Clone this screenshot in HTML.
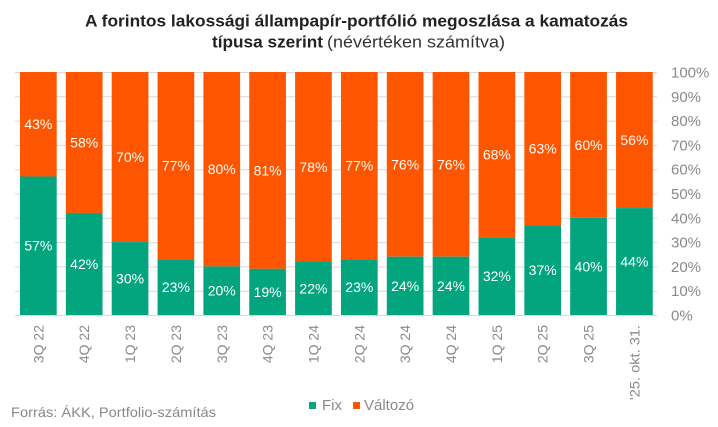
<!DOCTYPE html>
<html>
<head>
<meta charset="utf-8">
<style>
  html, body { margin: 0; padding: 0; background: #ffffff; }
  svg { display: block; }
  text { font-family: "Liberation Sans", Arial, sans-serif; }
</style>
</head>
<body>
<svg width="718" height="427" viewBox="0 0 718 427" xmlns="http://www.w3.org/2000/svg">
  <rect x="0" y="0" width="718" height="427" fill="#ffffff"/>

  <!-- Title -->
  <text x="85" y="26.7" font-size="17" font-weight="bold" fill="#222" textLength="543" lengthAdjust="spacingAndGlyphs">A forintos lakossági állampapír-portfólió megoszlása a kamatozás</text>
  <text x="212" y="47.5" font-size="17" font-weight="bold" fill="#222" textLength="111" lengthAdjust="spacingAndGlyphs">típusa szerint</text>
  <text x="327" y="47.5" font-size="17" fill="#333" textLength="178" lengthAdjust="spacingAndGlyphs">(névértéken számítva)</text>

  <!-- Gridlines -->
  <g stroke="#d9d9d9" stroke-width="1">
    <line x1="15" x2="657" y1="72.5" y2="72.5"/>
    <line x1="15" x2="657" y1="96.8" y2="96.8"/>
    <line x1="15" x2="657" y1="121.1" y2="121.1"/>
    <line x1="15" x2="657" y1="145.4" y2="145.4"/>
    <line x1="15" x2="657" y1="169.7" y2="169.7"/>
    <line x1="15" x2="657" y1="194" y2="194"/>
    <line x1="15" x2="657" y1="218.3" y2="218.3"/>
    <line x1="15" x2="657" y1="242.6" y2="242.6"/>
    <line x1="15" x2="657" y1="266.9" y2="266.9"/>
    <line x1="15" x2="657" y1="291.2" y2="291.2"/>
    <line x1="15" x2="657" y1="315.5" y2="315.5"/>
  </g>

  <!-- Y axis labels -->
  <g font-size="15" fill="#8a8a8a">
    <text x="671" y="77.5">100%</text>
    <text x="671" y="101.8">90%</text>
    <text x="671" y="126.1">80%</text>
    <text x="671" y="150.4">70%</text>
    <text x="671" y="174.7">60%</text>
    <text x="671" y="199">50%</text>
    <text x="671" y="223.3">40%</text>
    <text x="671" y="247.6">30%</text>
    <text x="671" y="271.9">20%</text>
    <text x="671" y="296.2">10%</text>
    <text x="671" y="320.5">0%</text>
  </g>

  <!-- Bars: orange (Változó) -->
  <g fill="#FE5500">
    <rect x="20" y="72" width="36.7" height="104.49"/>
    <rect x="65.85" y="72" width="36.7" height="140.94"/>
    <rect x="111.7" y="72" width="36.7" height="170.1"/>
    <rect x="157.55" y="72" width="36.7" height="187.11"/>
    <rect x="203.4" y="72" width="36.7" height="194.4"/>
    <rect x="249.25" y="72" width="36.7" height="196.83"/>
    <rect x="295.1" y="72" width="36.7" height="189.54"/>
    <rect x="340.95" y="72" width="36.7" height="187.11"/>
    <rect x="386.8" y="72" width="36.7" height="184.68"/>
    <rect x="432.65" y="72" width="36.7" height="184.68"/>
    <rect x="478.5" y="72" width="36.7" height="165.24"/>
    <rect x="524.35" y="72" width="36.7" height="153.09"/>
    <rect x="570.2" y="72" width="36.7" height="145.8"/>
    <rect x="616.05" y="72" width="36.7" height="136.08"/>
  </g>
  <!-- Bars: green (Fix) -->
  <g fill="#03A57F">
    <rect x="20" y="176.49" width="36.7" height="138.51"/>
    <rect x="65.85" y="212.94" width="36.7" height="102.06"/>
    <rect x="111.7" y="242.1" width="36.7" height="72.9"/>
    <rect x="157.55" y="259.11" width="36.7" height="55.89"/>
    <rect x="203.4" y="266.4" width="36.7" height="48.6"/>
    <rect x="249.25" y="268.83" width="36.7" height="46.17"/>
    <rect x="295.1" y="261.54" width="36.7" height="53.46"/>
    <rect x="340.95" y="259.11" width="36.7" height="55.89"/>
    <rect x="386.8" y="256.68" width="36.7" height="58.32"/>
    <rect x="432.65" y="256.68" width="36.7" height="58.32"/>
    <rect x="478.5" y="237.24" width="36.7" height="77.76"/>
    <rect x="524.35" y="225.09" width="36.7" height="89.91"/>
    <rect x="570.2" y="217.8" width="36.7" height="97.2"/>
    <rect x="616.05" y="208.08" width="36.7" height="106.92"/>
  </g>

  <!-- Data labels -->
  <g font-size="14" fill="#ffffff" text-anchor="middle">
    <text x="38.35" y="129.2">43%</text>
    <text x="84.2" y="147.5">58%</text>
    <text x="130.05" y="162">70%</text>
    <text x="175.9" y="170.6">77%</text>
    <text x="221.75" y="174.2">80%</text>
    <text x="267.6" y="175.4">81%</text>
    <text x="313.45" y="171.8">78%</text>
    <text x="359.3" y="170.6">77%</text>
    <text x="405.15" y="169.3">76%</text>
    <text x="451" y="169.3">76%</text>
    <text x="496.85" y="159.6">68%</text>
    <text x="542.7" y="153.5">63%</text>
    <text x="588.55" y="149.9">60%</text>
    <text x="634.4" y="145">56%</text>

    <text x="38.35" y="250.7">57%</text>
    <text x="84.2" y="269">42%</text>
    <text x="130.05" y="283.6">30%</text>
    <text x="175.9" y="292.1">23%</text>
    <text x="221.75" y="295.7">20%</text>
    <text x="267.6" y="296.9">19%</text>
    <text x="313.45" y="293.3">22%</text>
    <text x="359.3" y="292.1">23%</text>
    <text x="405.15" y="290.8">24%</text>
    <text x="451" y="290.8">24%</text>
    <text x="496.85" y="281.1">32%</text>
    <text x="542.7" y="275">37%</text>
    <text x="588.55" y="271.4">40%</text>
    <text x="634.4" y="266.5">44%</text>
  </g>

  <!-- X axis labels -->
  <g font-size="14" fill="#8a8a8a" text-anchor="end">
    <text transform="translate(43.35,325) rotate(-90)">3Q 22</text>
    <text transform="translate(89.2,325) rotate(-90)">4Q 22</text>
    <text transform="translate(135.05,325) rotate(-90)">1Q 23</text>
    <text transform="translate(180.9,325) rotate(-90)">2Q 23</text>
    <text transform="translate(226.75,325) rotate(-90)">3Q 23</text>
    <text transform="translate(272.6,325) rotate(-90)">4Q 23</text>
    <text transform="translate(318.45,325) rotate(-90)">1Q 24</text>
    <text transform="translate(364.3,325) rotate(-90)">2Q 24</text>
    <text transform="translate(410.15,325) rotate(-90)">3Q 24</text>
    <text transform="translate(456,325) rotate(-90)">4Q 24</text>
    <text transform="translate(501.85,325) rotate(-90)">1Q 25</text>
    <text transform="translate(547.7,325) rotate(-90)">2Q 25</text>
    <text transform="translate(593.55,325) rotate(-90)">3Q 25</text>
    <text transform="translate(639.4,325) rotate(-90)" textLength="75" lengthAdjust="spacingAndGlyphs">'25. okt. 31.</text>
  </g>

  <!-- Source -->
  <text x="11" y="417" font-size="14" fill="#888" textLength="205" lengthAdjust="spacingAndGlyphs">Forrás: ÁKK, Portfolio-számítás</text>

  <!-- Legend -->
  <rect x="309" y="402" width="7" height="7" fill="#03A57F"/>
  <text x="322" y="410" font-size="15" fill="#8a8a8a">Fix</text>
  <rect x="353" y="402" width="7" height="7" fill="#FE5500"/>
  <text x="364" y="410" font-size="15" fill="#8a8a8a">Változó</text>
</svg>
</body>
</html>
